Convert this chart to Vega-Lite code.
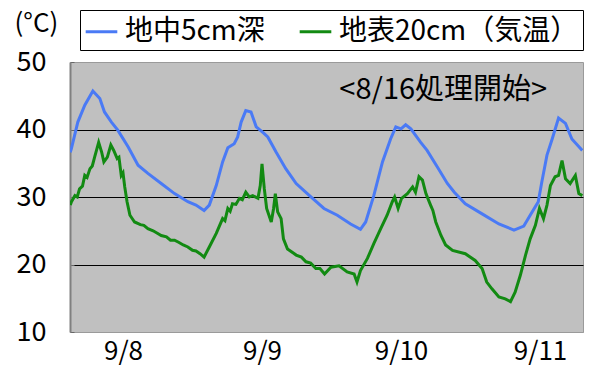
{
  "$schema": "https://vega.github.io/schema/vega-lite/v6.json",
  "width": 513,
  "height": 270,
  "autosize": {"type": "none"},
  "padding": {"left": 70, "top": 62, "right": 12, "bottom": 35},
  "background": "white",
  "config": {
    "font": "Noto Sans CJK JP",
    "view": {"fill": "#C0C0C0", "stroke": "#9A9A9A", "strokeWidth": 1}
  },
  "data": {
    "values": [
      {"h": 26.9, "s": "地中5cm深", "v": 36.6},
      {"h": 27.1, "s": "地中5cm深", "v": 37.2},
      {"h": 28.2, "s": "地中5cm深", "v": 41.1},
      {"h": 29.4, "s": "地中5cm深", "v": 43.6},
      {"h": 30.8, "s": "地中5cm深", "v": 45.7},
      {"h": 32.0, "s": "地中5cm深", "v": 44.6},
      {"h": 32.8, "s": "地中5cm深", "v": 42.6},
      {"h": 34.0, "s": "地中5cm深", "v": 41.1},
      {"h": 35.1, "s": "地中5cm深", "v": 39.9},
      {"h": 36.9, "s": "地中5cm深", "v": 37.4},
      {"h": 38.6, "s": "地中5cm深", "v": 34.7},
      {"h": 40.3, "s": "地中5cm深", "v": 33.5},
      {"h": 42.6, "s": "地中5cm深", "v": 32.0},
      {"h": 44.9, "s": "地中5cm深", "v": 30.5},
      {"h": 47.2, "s": "地中5cm深", "v": 29.3},
      {"h": 48.6, "s": "地中5cm深", "v": 28.8},
      {"h": 50.0, "s": "地中5cm深", "v": 28.0},
      {"h": 50.9, "s": "地中5cm深", "v": 28.8},
      {"h": 52.1, "s": "地中5cm深", "v": 31.7},
      {"h": 53.2, "s": "地中5cm深", "v": 35.2},
      {"h": 54.1, "s": "地中5cm深", "v": 37.3},
      {"h": 55.2, "s": "地中5cm深", "v": 37.9},
      {"h": 55.8, "s": "地中5cm深", "v": 38.9},
      {"h": 56.4, "s": "地中5cm深", "v": 41.1},
      {"h": 57.2, "s": "地中5cm深", "v": 42.8},
      {"h": 58.1, "s": "地中5cm深", "v": 42.6},
      {"h": 59.0, "s": "地中5cm深", "v": 40.4},
      {"h": 60.1, "s": "地中5cm深", "v": 39.6},
      {"h": 61.0, "s": "地中5cm深", "v": 38.9},
      {"h": 62.4, "s": "地中5cm深", "v": 36.7},
      {"h": 64.1, "s": "地中5cm深", "v": 34.2},
      {"h": 65.9, "s": "地中5cm深", "v": 32.0},
      {"h": 68.2, "s": "地中5cm深", "v": 30.2},
      {"h": 70.7, "s": "地中5cm深", "v": 28.3},
      {"h": 73.0, "s": "地中5cm深", "v": 27.3},
      {"h": 75.3, "s": "地中5cm深", "v": 26.0},
      {"h": 77.0, "s": "地中5cm深", "v": 25.2},
      {"h": 77.9, "s": "地中5cm深", "v": 26.3},
      {"h": 79.3, "s": "地中5cm深", "v": 30.2},
      {"h": 80.8, "s": "地中5cm深", "v": 35.2},
      {"h": 82.2, "s": "地中5cm深", "v": 38.6},
      {"h": 83.1, "s": "地中5cm深", "v": 40.4},
      {"h": 84.0, "s": "地中5cm深", "v": 40.1},
      {"h": 84.8, "s": "地中5cm深", "v": 40.7},
      {"h": 85.7, "s": "地中5cm深", "v": 40.1},
      {"h": 87.4, "s": "地中5cm深", "v": 38.1},
      {"h": 88.5, "s": "地中5cm深", "v": 36.9},
      {"h": 90.3, "s": "地中5cm深", "v": 34.4},
      {"h": 92.0, "s": "地中5cm深", "v": 32.0},
      {"h": 93.2, "s": "地中5cm深", "v": 30.7},
      {"h": 95.1, "s": "地中5cm深", "v": 29.0},
      {"h": 98.0, "s": "地中5cm深", "v": 27.5},
      {"h": 100.9, "s": "地中5cm深", "v": 26.0},
      {"h": 103.5, "s": "地中5cm深", "v": 25.1},
      {"h": 105.2, "s": "地中5cm深", "v": 25.7},
      {"h": 106.3, "s": "地中5cm深", "v": 27.3},
      {"h": 107.7, "s": "地中5cm深", "v": 29.3},
      {"h": 108.3, "s": "地中5cm深", "v": 32.2},
      {"h": 109.2, "s": "地中5cm深", "v": 36.2},
      {"h": 110.1, "s": "地中5cm深", "v": 38.6},
      {"h": 111.2, "s": "地中5cm深", "v": 41.7},
      {"h": 112.4, "s": "地中5cm深", "v": 40.9},
      {"h": 113.5, "s": "地中5cm深", "v": 38.6},
      {"h": 115.3, "s": "地中5cm深", "v": 36.9},

      {"h": 26.9, "s": "地表20cm（気温）", "v": 28.8},
      {"h": 27.1, "s": "地表20cm（気温）", "v": 29.3},
      {"h": 27.7, "s": "地表20cm（気温）", "v": 30.2},
      {"h": 28.1, "s": "地表20cm（気温）", "v": 30.0},
      {"h": 28.5, "s": "地表20cm（気温）", "v": 31.2},
      {"h": 29.0, "s": "地表20cm（気温）", "v": 31.6},
      {"h": 29.4, "s": "地表20cm（気温）", "v": 33.2},
      {"h": 29.8, "s": "地表20cm（気温）", "v": 32.9},
      {"h": 30.3, "s": "地表20cm（気温）", "v": 34.2},
      {"h": 30.7, "s": "地表20cm（気温）", "v": 34.6},
      {"h": 31.1, "s": "地表20cm（気温）", "v": 35.9},
      {"h": 31.8, "s": "地表20cm（気温）", "v": 38.1},
      {"h": 32.3, "s": "地表20cm（気温）", "v": 36.7},
      {"h": 32.7, "s": "地表20cm（気温）", "v": 35.2},
      {"h": 33.3, "s": "地表20cm（気温）", "v": 35.9},
      {"h": 33.9, "s": "地表20cm（気温）", "v": 37.7},
      {"h": 34.4, "s": "地表20cm（気温）", "v": 36.9},
      {"h": 35.0, "s": "地表20cm（気温）", "v": 35.7},
      {"h": 35.3, "s": "地表20cm（気温）", "v": 35.9},
      {"h": 35.7, "s": "地表20cm（気温）", "v": 33.2},
      {"h": 36.0, "s": "地表20cm（気温）", "v": 33.6},
      {"h": 36.3, "s": "地表20cm（気温）", "v": 31.5},
      {"h": 36.7, "s": "地表20cm（気温）", "v": 29.3},
      {"h": 37.2, "s": "地表20cm（気温）", "v": 27.3},
      {"h": 38.0, "s": "地表20cm（気温）", "v": 26.3},
      {"h": 39.0, "s": "地表20cm（気温）", "v": 25.9},
      {"h": 39.6, "s": "地表20cm（気温）", "v": 25.8},
      {"h": 40.3, "s": "地表20cm（気温）", "v": 25.3},
      {"h": 41.2, "s": "地表20cm（気温）", "v": 25.0},
      {"h": 42.0, "s": "地表20cm（気温）", "v": 24.6},
      {"h": 42.6, "s": "地表20cm（気温）", "v": 24.3},
      {"h": 43.5, "s": "地表20cm（気温）", "v": 24.1},
      {"h": 44.2, "s": "地表20cm（気温）", "v": 23.6},
      {"h": 44.9, "s": "地表20cm（気温）", "v": 23.6},
      {"h": 45.6, "s": "地表20cm（気温）", "v": 23.3},
      {"h": 46.4, "s": "地表20cm（気温）", "v": 22.9},
      {"h": 47.2, "s": "地表20cm（気温）", "v": 22.6},
      {"h": 48.0, "s": "地表20cm（気温）", "v": 22.1},
      {"h": 48.6, "s": "地表20cm（気温）", "v": 22.0},
      {"h": 49.3, "s": "地表20cm（気温）", "v": 21.6},
      {"h": 50.0, "s": "地表20cm（気温）", "v": 21.1},
      {"h": 50.9, "s": "地表20cm（気温）", "v": 22.6},
      {"h": 52.1, "s": "地表20cm（気温）", "v": 24.6},
      {"h": 53.2, "s": "地表20cm（気温）", "v": 26.8},
      {"h": 53.6, "s": "地表20cm（気温）", "v": 26.5},
      {"h": 54.1, "s": "地表20cm（気温）", "v": 28.3},
      {"h": 54.5, "s": "地表20cm（気温）", "v": 27.9},
      {"h": 54.9, "s": "地表20cm（気温）", "v": 29.0},
      {"h": 55.5, "s": "地表20cm（気温）", "v": 28.9},
      {"h": 56.1, "s": "地表20cm（気温）", "v": 29.8},
      {"h": 56.6, "s": "地表20cm（気温）", "v": 29.6},
      {"h": 57.2, "s": "地表20cm（気温）", "v": 30.7},
      {"h": 57.8, "s": "地表20cm（気温）", "v": 30.0},
      {"h": 58.4, "s": "地表20cm（気温）", "v": 30.2},
      {"h": 59.3, "s": "地表20cm（気温）", "v": 29.8},
      {"h": 59.7, "s": "地表20cm（気温）", "v": 31.7},
      {"h": 60.0, "s": "地表20cm（気温）", "v": 34.9},
      {"h": 60.4, "s": "地表20cm（気温）", "v": 31.2},
      {"h": 60.8, "s": "地表20cm（気温）", "v": 28.3},
      {"h": 61.6, "s": "地表20cm（気温）", "v": 26.3},
      {"h": 62.0, "s": "地表20cm（気温）", "v": 28.3},
      {"h": 62.3, "s": "地表20cm（気温）", "v": 30.5},
      {"h": 62.7, "s": "地表20cm（気温）", "v": 27.8},
      {"h": 63.3, "s": "地表20cm（気温）", "v": 26.8},
      {"h": 63.7, "s": "地表20cm（気温）", "v": 23.8},
      {"h": 64.4, "s": "地表20cm（気温）", "v": 22.3},
      {"h": 65.9, "s": "地表20cm（気温）", "v": 21.4},
      {"h": 66.8, "s": "地表20cm（気温）", "v": 21.1},
      {"h": 67.6, "s": "地表20cm（気温）", "v": 20.4},
      {"h": 68.4, "s": "地表20cm（気温）", "v": 20.2},
      {"h": 69.3, "s": "地表20cm（気温）", "v": 19.4},
      {"h": 70.0, "s": "地表20cm（気温）", "v": 19.4},
      {"h": 70.8, "s": "地表20cm（気温）", "v": 18.6},
      {"h": 71.9, "s": "地表20cm（気温）", "v": 19.6},
      {"h": 73.3, "s": "地表20cm（気温）", "v": 19.8},
      {"h": 74.7, "s": "地表20cm（気温）", "v": 18.9},
      {"h": 75.9, "s": "地表20cm（気温）", "v": 18.6},
      {"h": 76.4, "s": "地表20cm（気温）", "v": 17.4},
      {"h": 77.0, "s": "地表20cm（気温）", "v": 19.1},
      {"h": 78.2, "s": "地表20cm（気温）", "v": 20.9},
      {"h": 79.3, "s": "地表20cm（気温）", "v": 23.1},
      {"h": 80.5, "s": "地表20cm（気温）", "v": 25.3},
      {"h": 81.6, "s": "地表20cm（気温）", "v": 27.3},
      {"h": 82.5, "s": "地表20cm（気温）", "v": 29.3},
      {"h": 82.9, "s": "地表20cm（気温）", "v": 30.0},
      {"h": 83.5, "s": "地表20cm（気温）", "v": 28.3},
      {"h": 84.1, "s": "地表20cm（気温）", "v": 29.8},
      {"h": 85.1, "s": "地表20cm（気温）", "v": 30.5},
      {"h": 86.0, "s": "地表20cm（気温）", "v": 31.5},
      {"h": 86.5, "s": "地表20cm（気温）", "v": 30.7},
      {"h": 87.1, "s": "地表20cm（気温）", "v": 33.0},
      {"h": 87.7, "s": "地表20cm（気温）", "v": 32.5},
      {"h": 88.3, "s": "地表20cm（気温）", "v": 30.5},
      {"h": 89.1, "s": "地表20cm（気温）", "v": 28.8},
      {"h": 89.5, "s": "地表20cm（気温）", "v": 28.0},
      {"h": 90.0, "s": "地表20cm（気温）", "v": 26.3},
      {"h": 90.9, "s": "地表20cm（気温）", "v": 24.3},
      {"h": 91.7, "s": "地表20cm（気温）", "v": 22.9},
      {"h": 92.9, "s": "地表20cm（気温）", "v": 22.1},
      {"h": 95.1, "s": "地表20cm（気温）", "v": 21.6},
      {"h": 96.8, "s": "地表20cm（気温）", "v": 20.6},
      {"h": 98.0, "s": "地表20cm（気温）", "v": 19.4},
      {"h": 98.8, "s": "地表20cm（気温）", "v": 17.4},
      {"h": 99.7, "s": "地表20cm（気温）", "v": 16.4},
      {"h": 100.9, "s": "地表20cm（気温）", "v": 15.2},
      {"h": 102.0, "s": "地表20cm（気温）", "v": 14.9},
      {"h": 102.9, "s": "地表20cm（気温）", "v": 14.5},
      {"h": 103.7, "s": "地表20cm（気温）", "v": 15.9},
      {"h": 104.6, "s": "地表20cm（気温）", "v": 18.4},
      {"h": 105.5, "s": "地表20cm（気温）", "v": 21.4},
      {"h": 106.3, "s": "地表20cm（気温）", "v": 23.8},
      {"h": 107.2, "s": "地表20cm（気温）", "v": 25.8},
      {"h": 107.9, "s": "地表20cm（気温）", "v": 28.3},
      {"h": 108.6, "s": "地表20cm（気温）", "v": 26.8},
      {"h": 109.2, "s": "地表20cm（気温）", "v": 28.8},
      {"h": 109.8, "s": "地表20cm（気温）", "v": 31.7},
      {"h": 110.6, "s": "地表20cm（気温）", "v": 33.0},
      {"h": 111.2, "s": "地表20cm（気温）", "v": 33.2},
      {"h": 111.8, "s": "地表20cm（気温）", "v": 35.4},
      {"h": 112.4, "s": "地表20cm（気温）", "v": 32.7},
      {"h": 113.2, "s": "地表20cm（気温）", "v": 32.0},
      {"h": 114.1, "s": "地表20cm（気温）", "v": 33.2},
      {"h": 114.7, "s": "地表20cm（気温）", "v": 30.5},
      {"h": 115.3, "s": "地表20cm（気温）", "v": 30.2}
    ]
  },
  "layer": [
    {
      "mark": {"type": "line", "strokeWidth": 3, "clip": true},
      "encoding": {
        "x": {
          "field": "h",
          "type": "quantitative",
          "scale": {"domain": [26.85, 115.42], "nice": false, "zero": false},
          "axis": {
            "title": null,
            "values": [36, 60, 84, 108],
            "labelExpr": "datum.value == 36 ? '9/8' : datum.value == 60 ? '9/9' : datum.value == 84 ? '9/10' : '9/11'",
            "ticks": false,
            "grid": false,
            "domainColor": "#9A9A9A",
            "domainWidth": 1,
            "labelFontSize": 26,
            "labelColor": "black",
            "labelPadding": 6,
            "labelFont": "Noto Sans CJK JP"
          }
        },
        "y": {
          "field": "v",
          "type": "quantitative",
          "scale": {"domain": [10, 50], "nice": false, "zero": false},
          "axis": {
            "title": "(°C)",
            "titleAngle": 0,
            "titleAlign": "left",
            "titleBaseline": "top",
            "titleX": -56,
            "titleY": -52,
            "titleFontSize": 26,
            "titleFontWeight": "normal",
            "titleColor": "black",
            "titleFont": "Noto Sans CJK JP",
            "values": [10, 15, 20, 25, 30, 35, 40, 45, 50],
            "labelExpr": "datum.value % 10 == 0 ? datum.label : ''",
            "labelFontSize": 27,
            "labelColor": "black",
            "labelPadding": 28,
            "labelFont": "Noto Sans CJK JP",
            "tickSize": -4,
            "tickColor": "#666666",
            "domainColor": "#808080",
            "domainWidth": 2,
            "grid": true,
            "gridColor": "black",
            "gridWidth": 1,
            "gridOpacity": {"condition": {"test": "datum.value == 20 || datum.value == 30 || datum.value == 40", "value": 1}, "value": 0}
          }
        },
        "color": {
          "field": "s",
          "type": "nominal",
          "scale": {"domain": ["地中5cm深", "地表20cm（気温）"], "range": ["#4A7AF5", "#128A12"]},
          "legend": {
            "title": null,
            "orient": "none",
            "legendX": 10,
            "legendY": -52,
            "direction": "horizontal",
            "strokeColor": "black",
            "fillColor": "white",
            "padding": 4,
            "symbolType": "stroke",
            "symbolStrokeWidth": 3,
            "symbolSize": 1000,
            "labelFontSize": 28,
            "labelFont": "Noto Sans CJK JP",
            "labelColor": "black",
            "labelLimit": 400,
            "labelOffset": 6,
            "columnPadding": 28
          }
        }
      }
    },
    {
      "data": {"values": [{"note": "<8/16処理開始>"}]},
      "mark": {"type": "text", "fontSize": 29, "fontWeight": "normal", "font": "Noto Sans CJK JP", "color": "black", "align": "center", "baseline": "middle"},
      "encoding": {
        "x": {"datum": 91.3, "type": "quantitative"},
        "y": {"datum": 45.8, "type": "quantitative"},
        "text": {"field": "note", "type": "nominal"}
      }
    }
  ]
}
